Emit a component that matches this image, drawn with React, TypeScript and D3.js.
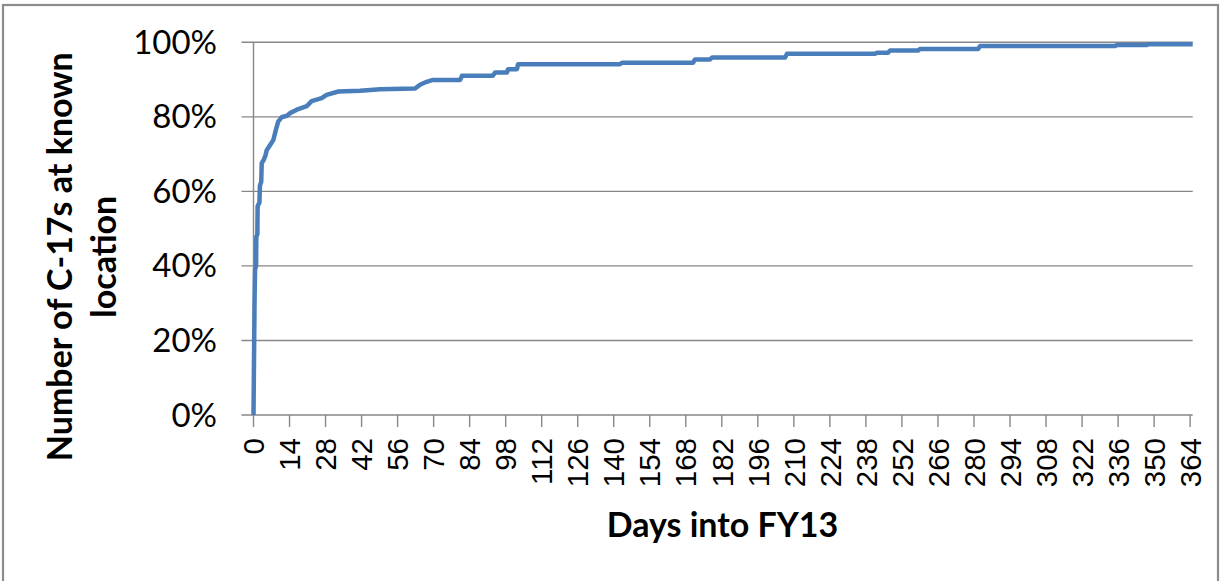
import React from "react";
import * as d3 from "d3";

// Cumulative share of C-17s at a known location (vertices)
const days = [
  0, 0.4, 0.6, 1.0, 1.1, 1.5, 1.6, 2.3, 2.5, 3.0, 3.2, 4.0, 4.6, 5.1, 6.4, 7.7, 8.7, 9.6, 11, 13,
  14.2, 17.4, 20.7, 22.6, 26.5, 28.4, 33, 41.4, 49.2, 62.8, 64.7, 67.3, 69.7, 80.3, 81, 93,
  93.9, 98.5, 98.9, 102.4, 102.8, 142.4, 143.2, 170.8, 171.6, 177.4, 178.2, 206.6, 207.3, 241.5,
  242.3, 246.6, 247.4, 258.3, 259, 281.6, 282.4, 334.8, 335.6, 347.3, 347.6, 365,
];
const pct = [
  0, 30, 39, 40, 47.8, 48.5, 56, 57, 61.6, 62.5, 67.6, 68.5, 69.5, 71, 72.4, 73.8, 76.5, 78.7, 79.9, 80.3,
  81, 82.1, 82.9, 84.2, 85, 85.9, 86.8, 87, 87.4, 87.6, 88.6, 89.4, 89.9, 89.9, 91, 91,
  91.9, 91.9, 92.8, 92.8, 94.1, 94.1, 94.5, 94.5, 95.4, 95.4, 95.9, 95.9, 96.9, 96.9,
  97.2, 97.2, 97.8, 97.8, 98.2, 98.2, 99.0, 99.0, 99.3, 99.3, 99.5, 99.5,
];
const xTickLabels = [0, 14, 28, 42, 56, 70, 84, 98, 112, 126, 140, 154, 168, 182, 196, 210, 224, 238, 252, 266, 280, 294, 308, 322, 336, 350, 364];
const yTickLabels = [0, 20, 40, 60, 80, 100];
const xTitle = "Days into FY13";
const yTitleLines = ["Number of C-17s at known", "location"];

const W = 1225;
const H = 581;
const left = 253.5;
const right = 1192.7;
const top = 42.3;
const bottom = 415;

export default function App() {
  const x = d3.scaleLinear().domain([0, 365]).range([left, right]);
  const y = d3.scaleLinear().domain([0, 100]).range([bottom, top]);
  const pts: [number, number][] = days.map((d, i) => [d, pct[i]]);
  const line = d3
    .line<[number, number]>()
    .x((p) => x(p[0]))
    .y((p) => y(p[1]))
    .curve(d3.curveLinear);
  const grid = "#878787";
  const titleCx = 58;
  const titleCy = 256.7;
  return (
    <svg
      width={W}
      height={H}
      style={{ position: "absolute", left: 0, top: 0, background: "#fff" }}
    >
      <rect x={0} y={0} width={W} height={H} fill="#fff" />
      <rect x={3} y={5} width={1215} height={580} fill="none" stroke="#8c8c8c" strokeWidth={2.2} />
      {yTickLabels.map((t) => (
        <g key={"y" + t}>
          <line x1={left - 12} x2={right} y1={y(t)} y2={y(t)} stroke={grid} strokeWidth={1.4} />
          <text
            x={217}
            y={y(t) + 11.5}
            textAnchor="end"
            fontFamily="Lato, 'Open Sans', sans-serif"
            fontSize={33}
            fill="#000"
          >
            {t + "%"}
          </text>
        </g>
      ))}
      <line x1={left} x2={left} y1={top} y2={bottom} stroke={grid} strokeWidth={1.4} />
      {xTickLabels.map((t) => (
        <g key={"x" + t}>
          <line x1={x(t)} x2={x(t)} y1={bottom} y2={bottom + 12} stroke={grid} strokeWidth={1.4} />
          <text
            transform={`translate(${x(t) + 10.7},${438}) rotate(-90)`}
            textAnchor="end"
            fontFamily="'Liberation Sans', Arial, sans-serif"
            fontSize={29.5}
            fill="#000"
          >
            {t}
          </text>
        </g>
      ))}
      <path d={line(pts) ?? ""} fill="none" stroke="#4a7ebb" strokeWidth={4.5} strokeLinejoin="round" />
      <text
        x={722.5}
        y={536.7}
        textAnchor="middle"
        fontFamily="Lato, sans-serif"
        fontWeight={700}
        fontSize={34}
        fill="#000"
      >
        {xTitle}
      </text>
      <g transform={`translate(${titleCx},${titleCy}) rotate(-90)`}>
        {yTitleLines.map((l, i) => (
          <text
            key={l}
            x={0}
            y={13.7 + i * 44.3}
            textAnchor="middle"
            fontFamily="Lato, sans-serif"
            fontWeight={700}
            fontSize={34}
            fill="#000"
          >
            {l}
          </text>
        ))}
      </g>
    </svg>
  );
}
